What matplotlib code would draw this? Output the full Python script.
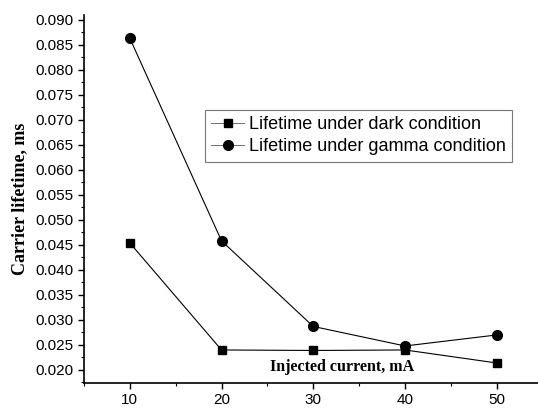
import matplotlib
matplotlib.use("Agg")
import matplotlib.pyplot as plt
from matplotlib.ticker import MultipleLocator, FormatStrFormatter

current_ma = [10, 20, 30, 40, 50]
lifetime_dark = [0.0454, 0.0240, 0.0239, 0.0240, 0.0214]
lifetime_gamma = [0.0863, 0.0458, 0.0287, 0.0248, 0.0270]

plt.rcParams['font.family'] = ['Liberation Sans', 'DejaVu Sans']

fig = plt.figure(figsize=(5.38, 4.12), dpi=100)
ax = fig.add_axes([0.156, 0.0704, 0.844, 0.894])

ax.plot(current_ma, lifetime_dark, color="black", lw=0.8, marker="s", ms=6,
        label="Lifetime under dark condition")
ax.plot(current_ma, lifetime_gamma, color="black", lw=0.8, marker="o", ms=7,
        label="Lifetime under gamma condition")

ax.set_xlim(5, 54.5)
ax.set_ylim(0.0174, 0.091)
ax.xaxis.set_major_locator(MultipleLocator(10))
ax.xaxis.set_minor_locator(MultipleLocator(5))
ax.yaxis.set_major_locator(MultipleLocator(0.005))
ax.yaxis.set_minor_locator(MultipleLocator(0.0025))
ax.yaxis.set_major_formatter(FormatStrFormatter("%.3f"))
ax.tick_params(which="major", length=4, width=1, labelsize=11)
ax.tick_params(which="minor", length=2, width=0.8)

ax.spines["top"].set_visible(False)
ax.spines["right"].set_visible(False)
ax.spines["left"].set_linewidth(1.2)
ax.spines["bottom"].set_linewidth(1.2)

ax.text(33.1, 0.0206, "Injected current, mA", family="Liberation Serif",
        fontweight="bold", fontsize=11.5, ha="center", va="center")
ax.set_ylabel("Carrier lifetime, ms", family="Liberation Serif",
              fontweight="bold", fontsize=13, labelpad=5)

leg = ax.legend(loc="upper left", bbox_to_anchor=(0.2665, 0.742), fontsize=13,
                frameon=True, fancybox=False, borderpad=0.35, labelspacing=0.3,
                handlelength=1.8, handletextpad=0.3, borderaxespad=0)
leg.get_frame().set_edgecolor("#555555")
leg.get_frame().set_linewidth(0.8)
for line in leg.get_lines():
    line.set_linewidth(0.6)
    line.set_color("#555555")
    line.set_markerfacecolor("black")
    line.set_markeredgecolor("black")

fig.savefig("out.png", dpi=100)
